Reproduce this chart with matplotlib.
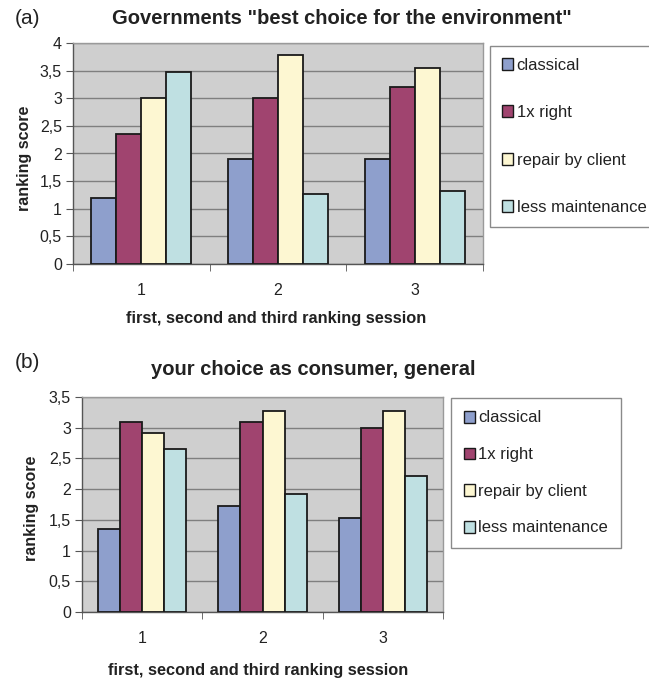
import numpy as np
import matplotlib
matplotlib.use('Agg')
import matplotlib.pyplot as plt
from matplotlib.patches import Patch

plt.rcParams['font.family'] = ['Liberation Sans', 'DejaVu Sans']

sessions = ['1', '2', '3']
series = ['classical', '1x right', 'repair by client', 'less maintenance']
colors = ['#8e9fcc', '#a0446f', '#fdf7d2', '#bfe0e2']

# (a) governments "best choice for the environment"
gov_classical = [1.2, 1.9, 1.9]
gov_right = [2.35, 3.0, 3.2]
gov_repair = [3.0, 3.78, 3.54]
gov_less = [3.47, 1.26, 1.33]

# (b) your choice as consumer
con_classical = [1.35, 1.73, 1.53]
con_right = [3.1, 3.1, 3.0]
con_repair = [2.92, 3.28, 3.28]
con_less = [2.65, 1.92, 2.21]

W, H = 649, 679
fig = plt.figure(figsize=(W / 100, H / 100), dpi=100)
txt = '#222222'

def px(x0, y0, x1, y1):
	return [x0 / W, 1 - y1 / H, (x1 - x0) / W, (y1 - y0) / H]

def drawPanel(ax, data, ymax):
	x = np.arange(1, len(sessions) + 1)
	width = 0.183
	for i, vals in enumerate(data):
		ax.bar(x + (i - 1.5) * width, vals, width, color=colors[i],
			edgecolor='#1a1a1a', linewidth=1.3, zorder=3)
	ax.set_facecolor('#cfcfcf')
	ax.set_xlim(0.5, len(sessions) + 0.5)
	ax.set_ylim(0, ymax)
	yt = np.arange(0, ymax + 0.01, 0.5)
	ax.set_yticks(yt)
	ax.set_yticklabels([('%g' % v).replace('.', ',') for v in yt])
	ax.set_xticks(x)
	ax.set_xticklabels(sessions)
	ax.set_xticks(np.arange(0.5, len(sessions) + 1), minor=True)
	ax.tick_params(axis='x', which='major', length=0, pad=14, labelsize=11.5, labelcolor=txt)
	ax.tick_params(axis='x', which='minor', length=5, color='#555555', direction='out')
	ax.tick_params(axis='y', length=5, color='#555555', labelsize=11.5, labelcolor=txt, pad=3)
	ax.yaxis.grid(True, color='#7f7f7f', linewidth=1.0)
	ax.set_axisbelow(True)
	for s in ['top', 'right']:
		ax.spines[s].set_color('#9a9a9a')
		ax.spines[s].set_linewidth(1.0)
	for s in ['left', 'bottom']:
		ax.spines[s].set_color('#555555')
		ax.spines[s].set_linewidth(1.0)
	ax.set_ylabel('ranking score', fontweight='bold', fontsize=11.5, color=txt)

def drawLegend(anchor, spacing, pad):
	handles = [Patch(facecolor=c, edgecolor='#1a1a1a', linewidth=1.0) for c in colors]
	fig.legend(handles, series, loc='upper left', bbox_to_anchor=anchor,
		bbox_transform=fig.transFigure, fontsize=12, frameon=True, fancybox=False,
		edgecolor='#8a8a8a', framealpha=1, handlelength=0.7, handleheight=0.7,
		handletextpad=0.2, labelspacing=spacing, borderpad=pad, borderaxespad=0,
		labelcolor=txt)

ax1 = fig.add_axes(px(73, 43, 483, 264))
drawPanel(ax1, [gov_classical, gov_right, gov_repair, gov_less], 4)
ax1.yaxis.set_label_coords(-0.1, 0.48)
drawLegend((490 / W, 1 - 46 / H), 1.95, 0.7)
fig.text(15 / W, 1 - 18 / H, '(a)', fontsize=15, va='center', color=txt)
fig.text(342 / W, 1 - 18 / H, 'Governments "best choice for the environment"',
	fontsize=14.5, fontweight='bold', ha='center', va='center', color=txt)
fig.text(276 / W, 1 - 319 / H, 'first, second and third ranking session',
	fontsize=11.8, fontweight='bold', ha='center', va='center', color=txt)

ax2 = fig.add_axes(px(82, 397, 443, 612))
drawPanel(ax2, [con_classical, con_right, con_repair, con_less], 3.5)
ax2.yaxis.set_label_coords(-0.119, 0.48)
drawLegend((451 / W, 1 - 398 / H), 1.3, 0.75)
fig.text(15 / W, 1 - 362 / H, '(b)', fontsize=15, va='center', color=txt)
fig.text(313 / W, 1 - 370 / H, 'your choice as consumer, general',
	fontsize=14.5, fontweight='bold', ha='center', va='center', color=txt)
fig.text(258 / W, 1 - 670 / H, 'first, second and third ranking session',
	fontsize=11.8, fontweight='bold', ha='center', va='center', color=txt)

fig.savefig('out.png', dpi=100)
